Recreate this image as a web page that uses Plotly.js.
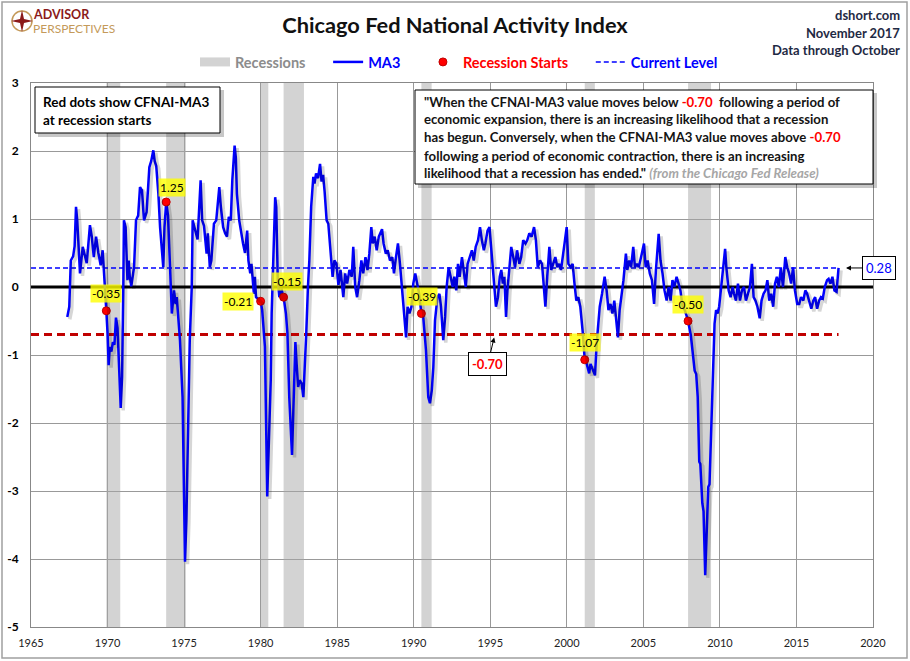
<!DOCTYPE html>
<html><head><meta charset="utf-8">
<script src="https://cdn.plot.ly/plotly-3.0.1.min.js"></script>
<style>body{margin:0;background:#fff}#chart{width:910px;height:661px}</style>
</head><body><div id="chart"></div>
<script>
// ---- data ----
const dates = [
1967.37,1967.50,1967.60,1967.75,1967.85,1967.94,1968.02,1968.20,1968.38,1968.64,1968.85,1968.97,1969.10,1969.25,1969.40,1969.55,1969.68,1969.77,1969.86,1969.92,
1970.00,1970.07,1970.15,1970.25,1970.35,1970.45,1970.55,1970.65,1970.86,1970.95,1971.03,1971.07,1971.18,1971.30,1971.38,1971.45,1971.55,1971.62,1971.73,1971.86,
1972.00,1972.12,1972.25,1972.38,1972.55,1972.73,1972.85,1972.99,1973.08,1973.18,1973.32,1973.43,1973.52,1973.64,1973.72,1973.83,1973.95,1974.08,1974.20,1974.34,
1974.45,1974.52,1974.60,1974.73,1974.90,1975.06,1975.15,1975.27,1975.37,1975.50,1975.56,1975.65,1975.75,1975.88,1976.08,1976.18,1976.30,1976.47,1976.55,1976.68,
1976.78,1976.95,1977.10,1977.30,1977.40,1977.55,1977.68,1977.80,1977.92,1978.05,1978.15,1978.30,1978.38,1978.45,1978.60,1978.72,1978.85,1978.98,1979.12,1979.20,
1979.32,1979.40,1979.48,1979.56,1979.62,1979.70,1979.85,1980.00,1980.10,1980.28,1980.43,1980.52,1980.66,1980.72,1980.78,1980.87,1980.95,1981.02,1981.12,1981.22,
1981.30,1981.38,1981.45,1981.50,1981.65,1981.75,1981.87,1982.05,1982.17,1982.27,1982.35,1982.45,1982.55,1982.68,1982.79,1982.90,1982.98,1983.09,1983.18,1983.30,
1983.44,1983.52,1983.62,1983.75,1983.88,1983.98,1984.08,1984.18,1984.31,1984.42,1984.57,1984.70,1984.82,1984.95,1985.08,1985.22,1985.40,1985.52,1985.65,1985.80,
1985.95,1986.05,1986.18,1986.30,1986.45,1986.58,1986.70,1986.85,1986.98,1987.10,1987.23,1987.32,1987.45,1987.58,1987.72,1987.85,1987.93,1988.03,1988.18,1988.30,
1988.45,1988.60,1988.71,1988.84,1988.97,1989.10,1989.23,1989.36,1989.50,1989.60,1989.72,1989.85,1989.97,1990.10,1990.22,1990.35,1990.50,1990.62,1990.80,1990.95,
1991.06,1991.18,1991.28,1991.39,1991.55,1991.68,1991.78,1991.93,1992.05,1992.15,1992.28,1992.42,1992.55,1992.65,1992.78,1992.89,1993.00,1993.15,1993.28,1993.40,
1993.52,1993.65,1993.80,1993.92,1994.05,1994.20,1994.33,1994.45,1994.58,1994.68,1994.82,1994.95,1995.05,1995.15,1995.28,1995.37,1995.50,1995.62,1995.72,1995.82,
1995.92,1996.03,1996.12,1996.25,1996.37,1996.50,1996.62,1996.75,1996.90,1997.02,1997.15,1997.30,1997.42,1997.55,1997.70,1997.86,1997.98,1998.10,1998.25,1998.38,
1998.50,1998.60,1998.72,1998.86,1998.98,1999.12,1999.25,1999.38,1999.50,1999.62,1999.75,1999.88,1999.99,2000.10,2000.25,2000.38,2000.50,2000.62,2000.75,2000.88,
2001.03,2001.10,2001.17,2001.30,2001.46,2001.55,2001.65,2001.84,2001.95,2002.05,2002.15,2002.30,2002.47,2002.60,2002.72,2002.85,2002.98,2003.10,2003.20,2003.34,
2003.45,2003.58,2003.70,2003.86,2003.95,2004.08,2004.20,2004.34,2004.45,2004.58,2004.70,2004.85,2005.04,2005.15,2005.28,2005.42,2005.56,2005.70,2005.82,2006.00,
2006.12,2006.25,2006.38,2006.52,2006.65,2006.78,2006.90,2007.02,2007.17,2007.30,2007.42,2007.56,2007.70,2007.82,2007.92,2008.10,2008.26,2008.35,2008.45,2008.55,
2008.65,2008.72,2008.85,2008.93,2009.04,2009.12,2009.24,2009.32,2009.40,2009.52,2009.65,2009.75,2009.85,2009.95,2010.08,2010.20,2010.34,2010.42,2010.57,2010.70,
2010.83,2010.92,2011.05,2011.18,2011.31,2011.44,2011.57,2011.70,2011.83,2011.96,2012.09,2012.20,2012.32,2012.45,2012.60,2012.72,2012.85,2012.98,2013.10,2013.22,
2013.35,2013.48,2013.60,2013.72,2013.85,2013.98,2014.12,2014.27,2014.40,2014.52,2014.65,2014.78,2014.90,2015.05,2015.18,2015.30,2015.45,2015.58,2015.70,2015.85,
2015.97,2016.10,2016.22,2016.35,2016.48,2016.60,2016.72,2016.85,2017.00,2017.10,2017.22,2017.35,2017.48,2017.62,2017.75
];
const ma3 = [
-0.44,-0.29,0.39,0.45,0.60,1.18,0.98,0.20,0.59,0.35,0.91,0.74,0.44,0.74,0.50,0.32,0.54,0.25,-0.10,-0.35,
-0.68,-1.15,-0.88,-0.95,-0.81,-0.85,-0.45,-0.60,-1.78,-1.32,0.00,0.98,0.88,0.10,0.39,0.16,0.01,0.10,0.29,0.98,
1.05,1.47,1.42,0.98,1.10,1.76,1.85,2.01,1.85,1.78,1.37,0.88,0.64,0.29,0.88,1.25,1.05,0.20,-0.39,-0.05,
-0.25,-0.15,-0.39,-0.78,-1.62,-4.04,-3.43,-2.11,-0.78,0.00,0.98,0.90,0.79,0.70,1.57,0.98,0.90,0.49,0.79,0.29,
0.39,0.93,0.98,1.47,1.18,0.88,0.79,0.74,1.03,0.98,1.57,2.08,1.90,1.37,0.98,0.79,0.64,0.50,0.83,0.39,
0.20,0.34,0.10,-0.10,0.15,-0.15,-0.18,-0.21,-0.34,-0.88,-3.08,-2.35,-1.37,-0.39,0.10,0.98,1.32,1.18,0.10,-0.15,
-0.12,-0.02,-0.15,-0.15,-0.39,-0.68,-1.62,-2.47,-1.62,-0.81,-1.13,-1.47,-1.37,-1.42,-1.62,-1.18,-0.68,0.00,0.39,1.18,
1.62,1.52,1.67,1.60,1.81,1.55,1.65,1.40,0.98,0.93,0.49,0.15,0.39,0.34,0.03,0.25,-0.15,0.20,0.05,0.25,
0.15,0.59,0.00,-0.15,0.10,0.39,0.20,0.44,0.25,0.49,0.88,0.64,0.74,0.54,0.74,0.83,0.85,0.64,0.49,0.54,
0.39,0.44,0.20,0.44,0.64,0.34,0.00,-0.34,-0.74,-0.29,-0.39,-0.29,0.05,0.20,0.05,-0.10,-0.39,-0.44,-0.93,-1.62,
-1.71,-1.52,-1.18,-0.49,-0.15,-0.10,-0.29,-0.78,-0.44,0.00,0.29,0.15,0.00,0.15,-0.05,0.34,0.15,0.44,0.20,0.00,
0.34,0.44,0.54,0.39,0.59,0.69,0.88,0.69,0.54,0.64,0.83,0.88,0.59,0.25,0.00,-0.29,-0.15,0.15,0.25,0.05,
0.15,-0.44,-0.05,0.34,0.59,0.44,0.29,0.54,0.34,0.44,0.69,0.64,0.69,0.79,0.74,0.88,0.69,0.29,0.39,0.34,
0.00,-0.29,0.15,0.59,0.25,0.34,0.44,0.29,0.34,0.25,0.44,0.69,0.88,0.34,0.29,0.34,0.05,-0.20,-0.15,-0.29,
-0.64,-0.83,-1.07,-1.13,-1.27,-1.13,-1.18,-1.30,-0.83,-0.59,-0.29,-0.10,0.15,-0.05,-0.34,-0.25,-0.39,-0.20,-0.44,-0.74,
-0.34,-0.10,0.10,0.49,0.25,0.39,0.29,0.59,0.29,0.34,0.29,0.44,0.64,0.29,0.39,0.20,0.10,-0.25,0.25,0.78,
0.39,0.20,-0.05,-0.20,0.00,-0.20,0.10,0.00,0.15,0.05,-0.05,-0.29,-0.34,-0.42,-0.50,-0.71,-1.08,-1.23,-1.28,-1.62,
-2.57,-2.60,-3.18,-3.30,-4.24,-3.77,-2.94,-2.90,-2.35,-1.37,-0.54,-0.34,-0.39,-0.29,0.00,0.29,0.56,0.29,-0.05,-0.15,
0.00,-0.10,-0.20,0.05,-0.20,-0.05,0.00,-0.20,-0.10,0.00,0.34,-0.15,-0.20,-0.29,-0.46,-0.20,-0.10,-0.05,0.10,-0.20,
-0.10,-0.29,0.05,0.15,0.00,0.29,0.00,0.44,0.29,0.20,0.05,0.29,-0.05,-0.25,-0.25,-0.15,-0.20,-0.05,-0.10,-0.25,
-0.32,-0.20,-0.15,-0.32,-0.20,-0.15,-0.17,0.00,0.10,0.12,0.05,0.15,-0.05,-0.07,0.28
];
const recStart = [1969.92, 1973.83, 1980.00, 1981.50, 1990.50, 2001.17, 2007.92];
const recEnd   = [1970.83, 1975.12, 1980.50, 1982.83, 1991.17, 2001.83, 2009.42];
const recStartVal = [-0.35, 1.25, -0.21, -0.15, -0.39, -1.07, -0.50];
const threshold = -0.70;
const currentLevel = 0.28;
const xTicks = [1965,1970,1975,1980,1985,1990,1995,2000,2005,2010,2015,2020];
const yTicks = [-5,-4,-3,-2,-1,0,1,2,3];
const quoteLines = [
  '"When the CFNAI-MA3 value moves below <span style="color:#ff0000">-0.70</span>  following a period of',
  'economic expansion, there is an increasing likelihood that a recession',
  'has begun. Conversely, when the CFNAI-MA3 value moves above <span style="color:#ff0000">-0.70</span>',
  'following a period of economic contraction, there is an increasing',
  'likelihood that a recession has ended." <i><span style="color:#a6a6a6">(from the Chicago Fed Release)</span></i>'
];

// ---- layout helpers (pixel -> paper) ----
const W = 910, H = 661, M = {l:31, r:37, t:83, b:34};
const pw = W - M.l - M.r, ph = H - M.t - M.b;
const px = x => (x - M.l) / pw;
const py = y => (H - M.b - y) / ph;
const FONT = 'Lato, "Open Sans", sans-serif';
const lastDate = dates[dates.length - 1];
const xr = [xTicks[0], xTicks[xTicks.length-1]], yr = [yTicks[0], yTicks[yTicks.length-1]];
const GAP = '\u00a0\u00a0\u00a0\u00a0\u00a0';
// shadow offset (pixels -> axis units)
const sdx = 2.5 * (xr[1]-xr[0]) / pw, sdy = 2.5 * (yr[1]-yr[0]) / ph;

const traces = [
  { type:'bar', showlegend:false,
    x: recStart.map((s,i)=>(s+recEnd[i])/2), width: recStart.map((s,i)=>recEnd[i]-s),
    y: recStart.map(()=>yr[1]-yr[0]), base: recStart.map(()=>yr[0]),
    marker:{color:'rgba(167,167,167,0.5)', line:{width:0}} },
  { type:'scatter', mode:'lines', name:'<span style="color:#8c8c8c">Recessions</span>'+GAP, legendrank:1,
    x:[null], y:[null], line:{color:'#d3d3d3', width:9} },
  { type:'scatter', mode:'lines', showlegend:false, x:xr, y:[0,0],
    line:{color:'#000', width:3} },
  { type:'scatter', mode:'lines', showlegend:false, x:[xr[0], lastDate], y:[threshold, threshold],
    line:{color:'#c00000', width:3, dash:'8px,5px'} },
  { type:'scatter', mode:'lines', name:'<span style="color:#0000ff">Current Level</span>', legendrank:4,
    x:[xr[0], lastDate], y:[currentLevel, currentLevel],
    line:{color:'#0000ff', width:1.5, dash:'5px,3px'} },
  { type:'scatter', mode:'lines', showlegend:false, xaxis:'x2', yaxis:'y2',
    x: dates, y: ma3, line:{color:'rgba(0,0,0,0.16)', width:3.5} },
  { type:'scatter', mode:'lines', name:'<span style="color:#0000ff">MA3</span>'+GAP, legendrank:2,
    x: dates, y: ma3, line:{color:'#0000ff', width:2.5} },
  { type:'scatter', mode:'markers', name:'<span style="color:#ff0000">Recession Starts</span>'+GAP, legendrank:3,
    x: recStart, y: recStartVal,
    marker:{color:'#ff0000', size:8, line:{color:'#c00000', width:1}} }
];

const labelShift = [[0,17],[6,15],[-23,0],[3,16],[1,17],[0,17],[0,17]];
const annotations = [];
recStart.forEach((d,i)=>{
  annotations.push({ x:d, y:recStartVal[i], xref:'x', yref:'y', text:recStartVal[i].toFixed(2),
    showarrow:false, xshift:labelShift[i][0], yshift:labelShift[i][1],
    bgcolor:'rgba(255,255,0,0.8)', borderpad:1, font:{family:FONT, size:12, color:'#000'} });
});
// threshold callout
annotations.push({ x:1995.3, y:threshold, xref:'x', yref:'y', text:'<b>'+threshold.toFixed(2)+'</b>',
  showarrow:true, ax:-7, ay:29, arrowhead:2, arrowsize:1, arrowwidth:1, arrowcolor:'#000', standoff:3,
  bgcolor:'#fff', bordercolor:'#000', borderwidth:1, borderpad:3,
  font:{family:FONT, size:13, color:'#ff0000'} });
// current level callout
annotations.push({ x:px(846), y:currentLevel, xref:'paper', yref:'y', text:currentLevel.toFixed(2),
  showarrow:true, ax:33, ay:0, arrowhead:2, arrowsize:1, arrowwidth:1, arrowcolor:'#000',
  bgcolor:'#fff', bordercolor:'#000', borderwidth:1, borderpad:3,
  font:{family:FONT, size:13, color:'#0000ff'} });
// text box 1
annotations.push({ x:px(41), y:py(110.5), xref:'paper', yref:'paper', xanchor:'left', yanchor:'middle', align:'left',
  text:'<b>Red dots show CFNAI-MA3<br>at recession starts</b>', showarrow:false,
  font:{family:FONT, size:13.5, color:'#000'} });
// quote
const qy = [101.7, 119.4, 137.2, 155.5, 173.3];
quoteLines.forEach((t,i)=>{
  annotations.push({ x:px(422), y:py(qy[i]), xref:'paper', yref:'paper', xanchor:'left', yanchor:'middle', align:'left',
    text:'<b>'+t+'</b>', showarrow:false, font:{family:FONT, size:13.2, color:'#141414'} });
});
// top right
[['dshort.com',15],['November 2017',32.5],['Data through October',50]].forEach(([t,y])=>{
  annotations.push({ x:px(902), y:py(y), xref:'paper', yref:'paper', xanchor:'right', yanchor:'middle',
    text:'<b>'+t+'</b>', showarrow:false, font:{family:FONT, size:13, color:'#1f2a44'} });
});
// logo
annotations.push({ x:px(31), y:py(14.5), xref:'paper', yref:'paper', xanchor:'left', yanchor:'middle',
  text:'<b>ADVISOR</b>', showarrow:false, font:{family:FONT, size:12.5, color:'#8b1a1a'} });
annotations.push({ x:px(31), y:py(29), xref:'paper', yref:'paper', xanchor:'left', yanchor:'middle',
  text:'PERSPECTIVES', showarrow:false, font:{family:FONT, size:12, color:'#c49a5a'} });

const shapes = [
  { type:'rect', xref:'paper', yref:'paper', x0:px(2), x1:px(907), y0:py(658), y1:py(2),
    line:{color:'#a0a0a0', width:1.5}, fillcolor:'rgba(0,0,0,0)', layer:'below' },
  // box 1 shadow + box
  { type:'rect', xref:'paper', yref:'paper', x0:px(38), x1:px(224), y0:py(137), y1:py(90),
    line:{width:0}, fillcolor:'rgba(0,0,0,0.22)', layer:'above' },
  { type:'rect', xref:'paper', yref:'paper', x0:px(35), x1:px(220), y0:py(133), y1:py(87),
    line:{color:'#000', width:1}, fillcolor:'#fff', layer:'above' },
  // quote shadow + box
  { type:'rect', xref:'paper', yref:'paper', x0:px(418), x1:px(877), y0:py(188), y1:py(93),
    line:{width:0}, fillcolor:'rgba(0,0,0,0.22)', layer:'above' },
  { type:'rect', xref:'paper', yref:'paper', x0:px(415), x1:px(873), y0:py(184), y1:py(90),
    line:{color:'#000', width:1}, fillcolor:'#fff', layer:'above' },
  // logo compass
  { type:'circle', xref:'paper', yref:'paper', x0:px(12), x1:px(32), y0:py(31), y1:py(11),
    line:{color:'#c49a5a', width:1.5}, fillcolor:'rgba(0,0,0,0)' },
  { type:'path', xref:'paper', yref:'paper',
    path:'M '+px(22)+' '+py(10)+' L '+px(24)+' '+py(19)+' L '+px(33)+' '+py(21)+' L '+px(24)+' '+py(23)+
         ' L '+px(22)+' '+py(32)+' L '+px(20)+' '+py(23)+' L '+px(11)+' '+py(21)+' L '+px(20)+' '+py(19)+' Z',
    line:{width:0}, fillcolor:'#8b1a1a' }
];

const layout = {
  width:W, height:H, margin:M, paper_bgcolor:'#fff', plot_bgcolor:'#fff',
  font:{family:FONT, color:'#000'},
  title:{text:'<b>Chicago Fed National Activity Index</b>', x:455/W, xanchor:'center', y:1-25/H, yanchor:'middle',
    font:{family:FONT, size:21.8, color:'#111'}},
  showlegend:true, hovermode:false, barmode:'overlay',
  legend:{orientation:'h', x:px(459), xanchor:'center', y:py(62), yanchor:'middle',
    font:{family:FONT, size:14.5, weight:'bold'}, bgcolor:'rgba(0,0,0,0)', traceorder:'normal'},
  xaxis:{range:xr, tickvals:xTicks, ticktext:xTicks.map(String),
    showgrid:true, gridcolor:'#999', gridwidth:1, zeroline:false,
    showline:true, mirror:true, linecolor:'#888', linewidth:1, ticks:'', ticklabelstandoff:6,
    tickfont:{family:FONT, size:11, color:'#222'}},
  yaxis:{range:yr, tickvals:yTicks, ticktext:yTicks.map(String),
    showgrid:true, gridcolor:'#999', gridwidth:1, zeroline:false,
    showline:true, mirror:true, linecolor:'#888', linewidth:1, ticks:'', ticklabelstandoff:9,
    tickfont:{family:FONT, size:12, color:'#000', weight:'bold'}},
  xaxis2:{range:[xr[0]-sdx, xr[1]-sdx], overlaying:'x', visible:false, fixedrange:true},
  yaxis2:{range:[yr[0]+sdy, yr[1]+sdy], overlaying:'y', visible:false, fixedrange:true},
  shapes:shapes, annotations:annotations
};

Plotly.newPlot('chart', traces, layout, {displayModeBar:false, staticPlot:true});
</script>
</body></html>
